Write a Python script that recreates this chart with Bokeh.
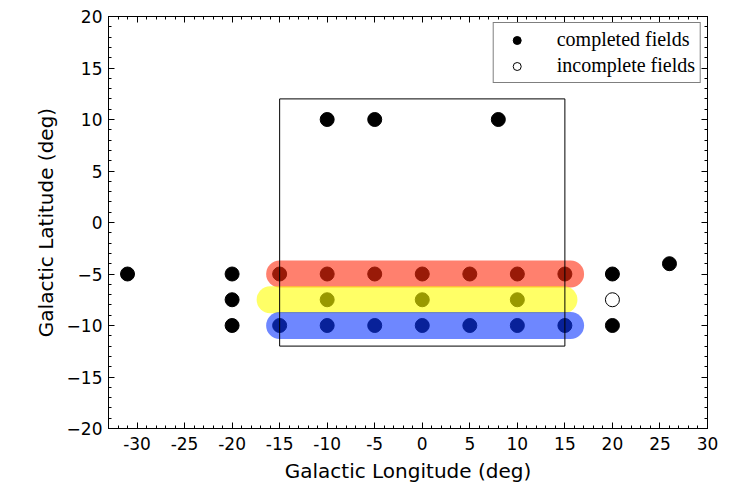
from bokeh.plotting import figure
from bokeh.models import (FixedTicker, LinearAxis, Legend, LegendItem, Range1d)
from bokeh.embed import file_html
from bokeh.resources import INLINE

# ---- data ----
completed_l = [-31, -20, -20, -20,
               -15, -10, -5, 0, 5, 10, 15,
               -10, 0, 10,
               -15, -10, -5, 0, 5, 10, 15,
               -10, -5, 8,
               20, 20, 26]
completed_b = [-5, -5, -7.5, -10,
               -5, -5, -5, -5, -5, -5, -5,
               -7.5, -7.5, -7.5,
               -10, -10, -10, -10, -10, -10, -10,
               10, 10, 10,
               -5, -10, -4]
incomplete_l = [20]
incomplete_b = [-7.5]

band_names = ["red", "yellow", "blue"]
band_l0 = [-15, -16, -15]
band_l1 = [15.6, 14.9, 15.6]
band_b = [-5, -7.5, -10]
band_colors = ["#ff2b0d", "#ffff00", "#0d37ff"]

box_l = [-15, 15]
box_b = [-12, 12]

x_ticks = [-30, -25, -20, -15, -10, -5, 0, 5, 10, 15, 20, 25, 30]
y_ticks = [-20, -15, -10, -5, 0, 5, 10, 15, 20]
x_minor = list(range(-33, 31))
y_minor = list(range(-20, 21))

p = figure(width=736, height=485, output_backend="svg", toolbar_location=None,
           x_range=Range1d(-33, 30), y_range=Range1d(-20, 20),
           min_border_left=108, min_border_right=29, min_border_top=16,
           min_border_bottom=57)
p.xgrid.visible = False
p.ygrid.visible = False
p.outline_line_color = "black"
p.outline_line_width = 1
p.background_fill_color = "white"
p.border_fill_color = "white"

# points
r_done = p.scatter(completed_l, completed_b, size=14, marker="circle",
                   fill_color="black", line_color="black")
r_inc = p.scatter(incomplete_l, incomplete_b, size=14, marker="circle",
                  fill_color="white", line_color="black", line_width=1)

# bands
for l0, l1, b, c in zip(band_l0, band_l1, band_b, band_colors):
    p.line([l0, l1], [b, b], line_width=27, line_color=c, line_alpha=0.6,
           line_cap="round")

# survey box
p.quad(left=[box_l[0]], right=[box_l[1]], bottom=[box_b[0]], top=[box_b[1]],
       fill_color=None, line_color="black", line_width=1)

def style_axis(ax, ticks, minor, labels=True, overrides=None):
    ax.ticker = FixedTicker(ticks=ticks, minor_ticks=minor)
    ax.major_tick_in = 6
    ax.major_tick_out = 0
    ax.minor_tick_in = 3
    ax.minor_tick_out = 0
    ax.axis_line_color = "black"
    ax.major_tick_line_color = "black"
    ax.minor_tick_line_color = "black"
    if labels:
        ax.major_label_text_font = "DejaVu Sans"
        ax.major_label_text_font_size = "17px"
        ax.major_label_text_color = "black"
        if overrides:
            ax.major_label_overrides = overrides
    else:
        ax.major_label_text_font_size = "0px"
        ax.major_label_text_color = None

xo = {t: str(t) for t in x_ticks}
yo = {t: (str(t).replace("-", "\u2212")) for t in y_ticks}

style_axis(p.xaxis[0], x_ticks, x_minor, True, xo)
style_axis(p.yaxis[0], y_ticks, y_minor, True, yo)
p.xaxis[0].major_label_standoff = 8
p.yaxis[0].major_label_standoff = 6

p.xaxis[0].axis_label = "Galactic Longitude (deg)"
p.yaxis[0].axis_label = "Galactic Latitude (deg)"
for ax in (p.xaxis[0], p.yaxis[0]):
    ax.axis_label_text_font = "DejaVu Sans"
    ax.axis_label_text_font_style = "normal"
    ax.axis_label_text_font_size = "20px"
    ax.axis_label_text_color = "black"
    ax.axis_label_standoff = 6

top_ax = LinearAxis()
right_ax = LinearAxis()
style_axis(top_ax, x_ticks, x_minor, labels=False)
style_axis(right_ax, y_ticks, y_minor, labels=False)
p.add_layout(top_ax, "above")
p.add_layout(right_ax, "right")

legend = Legend(items=[LegendItem(label="completed fields", renderers=[r_done]),
                       LegendItem(label="incomplete fields", renderers=[r_inc])],
                location="top_right")
legend.margin = 6
legend.padding = 5
legend.glyph_width = 36
legend.glyph_height = 20
legend.label_standoff = 22
legend.label_height = 20
legend.spacing = 3
legend.border_line_color = "black"
legend.border_line_width = 1
legend.label_text_font = "Liberation Serif"
legend.label_text_font_size = "20px"
legend.label_text_color = "black"
legend.background_fill_alpha = 1
p.add_layout(legend, "center")

open("out.html", "w").write(file_html(p, INLINE))
